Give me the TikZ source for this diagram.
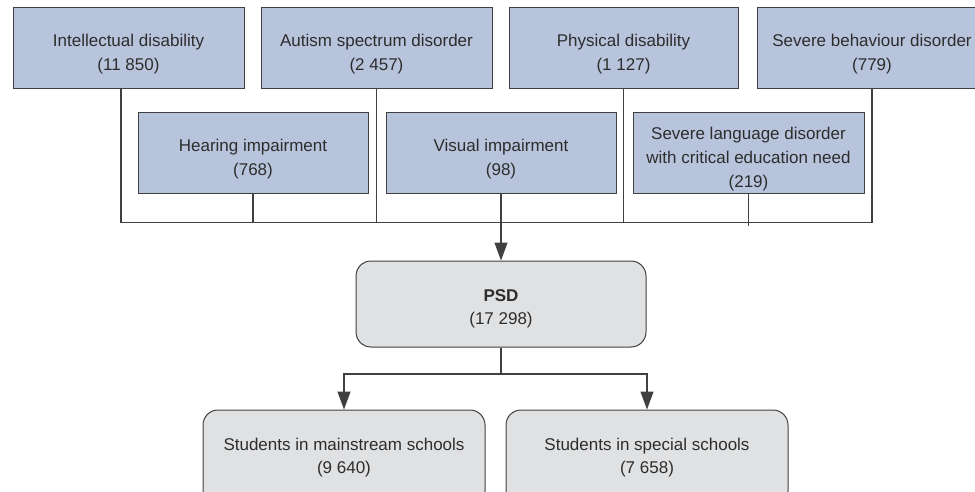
\documentclass[tikz,border=0pt]{standalone}
\usepackage{fontspec}
\setmainfont{Liberation Sans}
\usetikzlibrary{arrows.meta}
\definecolor{catfill}{RGB}{184,196,220}
\definecolor{sumfill}{RGB}{224,225,227}
\definecolor{edge}{RGB}{64,64,64}
\definecolor{ink}{RGB}{45,45,45}
% taller first line, so that the text sits a little below the box centre
\newcommand{\catstrut}{\rule{0pt}{23.5pt}}
\newcommand{\psdstrut}{\rule{0pt}{21.5pt}}
\tikzset{
  catbox/.style={draw=edge, line width=1pt, fill=catfill, rectangle,
    minimum width=230pt, minimum height=81pt, inner sep=0pt,
    align=center, text=ink, font=\fontsize{17}{24}\selectfont},
  sumbox/.style={draw=edge, line width=1pt, fill=sumfill, rectangle,
    rounded corners=15pt, minimum height=86pt, inner sep=0pt,
    align=center, text=ink, font=\fontsize{17}{23}\selectfont},
  link/.style={draw=edge, line width=1.2pt},
  flow/.style={link, -{Triangle[length=18pt,width=13pt]}},
}
\begin{document}
\begin{tikzpicture}[x=1pt,y=-1pt]
\useasboundingbox (0,0) rectangle (975,492);
\clip (0,0) rectangle (975,492);

% categories, upper row
\node[catbox, minimum width=231pt] (id)  at (128.5,48.5) {\catstrut Intellectual disability\\(11 850)};
\node[catbox, minimum width=231pt] (asd) at (376.5,48.5) {\catstrut Autism spectrum disorder\\(2 457)};
\node[catbox, minimum width=229pt] (pd)  at (623.5,48.5) {\catstrut Physical disability\\(1 127)};
\node[catbox] (sbd) at (872,48.5) {\catstrut Severe behaviour disorder\\(779)};

% categories, lower row
\node[catbox] (hi)  at (253,153.5) {\catstrut Hearing impairment\\(768)};
\node[catbox] (vi)  at (501,153.5) {\catstrut Visual impairment\\(98)};
\node[catbox, minimum width=231pt] (sld) at (748.5,153.5) {\catstrut Severe language disorder\\with critical education need\\(219)};

% total and split
\node[sumbox, minimum width=290pt] (psd) at (501,304) {\psdstrut\textbf{PSD}\\(17 298)};
\node[sumbox, minimum width=282pt, minimum height=96pt] (main) at (344,458) {Students in mainstream schools\\(9 640)};
\node[sumbox, minimum width=282pt, minimum height=96pt] (spec) at (647,458) {Students in special schools\\(7 658)};

% collecting bus
\coordinate (busL) at (121,222.5);
\coordinate (busR) at (872,222.5);
\coordinate (sldEnd) at (748.5,226);
\coordinate (split) at (501,374);

\draw[link] (id.south -| busL) -- (busL) -- (busR) -- (sbd.south);
\draw[link] (asd.south) -- (asd.south |- busL);
\draw[link] (pd.south) -- (pd.south |- busL);
\draw[link] (hi.south) -- (hi.south |- busL);
\draw[link] (sld.south) -- (sldEnd);
\draw[flow] (vi.south) -- (psd.north);

% distribution
\draw[link] (psd.south) -- (split);
\draw[flow] (split) -| (main.north);
\draw[flow] (split) -| (spec.north);
\end{tikzpicture}
\end{document}
